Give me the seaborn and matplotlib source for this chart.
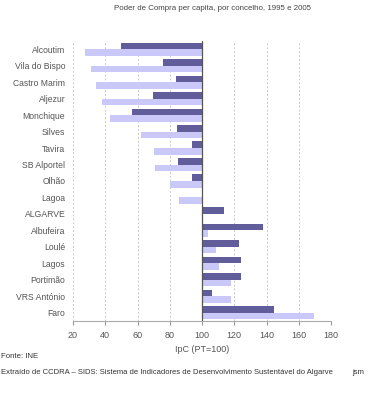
import matplotlib

matplotlib.use("Agg")

import matplotlib.pyplot as plt
import pandas as pd
import seaborn as sns
from matplotlib.ticker import FuncFormatter, MultipleLocator

concelhos = [
    "Alcoutim", "Vila do Bispo", "Castro Marim", "Aljezur", "Monchique",
    "Silves", "Tavira", "SB Alportel", "Olhão", "Lagoa", "ALGARVE",
    "Albufeira", "Loulé", "Lagos", "Portimão", "VRS António", "Faro",
]
ipc_2005 = [49.6, 75.8, 83.7, 69.6, 56.6, 84.7, 94.0, 85.1, 94.0, 100.0,
            113.4, 137.8, 122.7, 124.2, 124.2, 106.4, 144.5]
ipc_1995 = [27.4, 31.0, 34.5, 38.0, 43.0, 62.2, 70.2, 70.7, 80.2, 85.7,
            100.0, 103.9, 108.5, 110.8, 118.0, 118.0, 169.5]
anos = ["2005", "1995"]
cores = {"2005": "#605d9a", "1995": "#c9c8f9"}

df = pd.DataFrame({"concelho": concelhos, "2005": ipc_2005, "1995": ipc_1995})
df = df.melt(id_vars="concelho", var_name="ano", value_name="ipc")
# bars start at PT=100
df["desvio"] = df["ipc"] - 100

sns.set_style("white")
plt.rcParams["font.family"] = ["Liberation Sans", "DejaVu Sans"]

fig = plt.figure(figsize=(3.74, 4.0), dpi=100)
ax = fig.add_axes([73 / 374, 1 - 321 / 400, 258 / 374, 280 / 400])

sns.barplot(
    data=df, y="concelho", x="desvio", hue="ano", hue_order=anos,
    order=concelhos, palette=cores, orient="h", width=0.8,
    saturation=1, legend=False, ax=ax, linewidth=0,
)

ax.set_xlim(-80, 80)
ax.xaxis.set_major_locator(MultipleLocator(20))
ax.xaxis.set_major_formatter(FuncFormatter(lambda v, _: f"{v + 100:.0f}"))
ax.grid(axis="x", color="#c8c8c8", linestyle=(0, (2, 2)), linewidth=0.7)
ax.set_axisbelow(True)
ax.axvline(0, color="#555555", linewidth=0.9)

for side in ["top", "right", "left"]:
    ax.spines[side].set_visible(False)
ax.spines["bottom"].set_color("#aaaaaa")
ax.spines["bottom"].set_linewidth(0.8)

ax.tick_params(axis="x", bottom=True, length=3, color="#999999",
               labelsize=6.5, labelcolor="#555555", pad=4)
ax.tick_params(axis="y", left=False, labelsize=6.2, labelcolor="#555555", pad=2)
ax.set_ylabel("")
ax.set_xlabel("IpC (PT=100)", fontsize=6.5, color="#555555", labelpad=4)

fig.text(212 / 374, 1 - 9 / 400, "Poder de Compra per capita, por concelho, 1995 e 2005",
         ha="center", va="center", fontsize=5.7, color="#444444")
fig.text(1 / 374, 1 - 356 / 400, "Fonte: INE", ha="left", va="center",
         fontsize=5.6, color="#333333")
fig.text(1 / 374, 1 - 373 / 400,
         "Extraído de CCDRA – SIDS: Sistema de Indicadores de Desenvolvimento Sustentável do Algarve",
         ha="left", va="center", fontsize=5.5, color="#333333")
fig.text(352 / 374, 1 - 373 / 400, "jsm", ha="left", va="center",
         fontsize=5.5, color="#333333")

fig.savefig("out.png", dpi=100)
